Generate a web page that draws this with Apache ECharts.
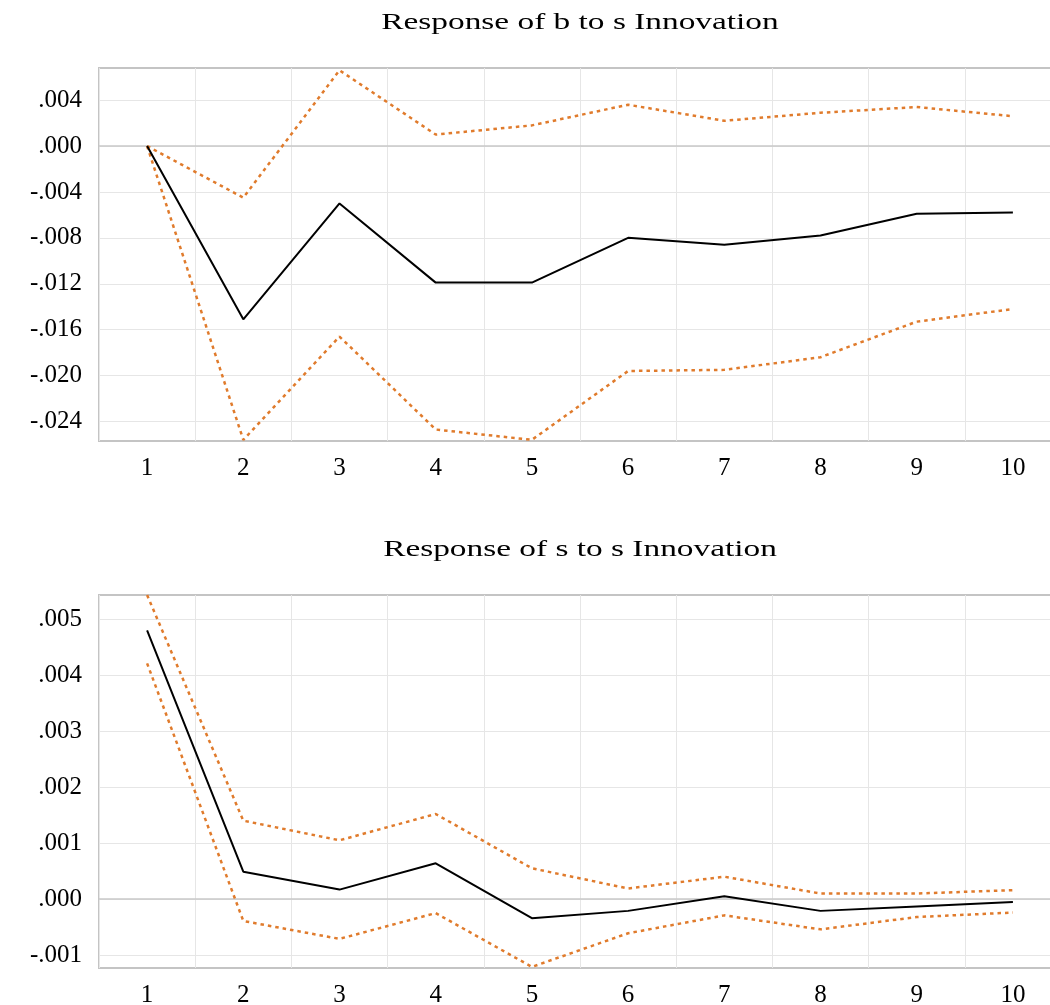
<!DOCTYPE html>
<html>
<head>
<meta charset="utf-8">
<script src="https://cdn.jsdelivr.net/npm/echarts@6/dist/echarts.min.js"></script>
<style>
  html, body { margin: 0; padding: 0; background: #fff; }
  #main { width: 1050px; height: 1005px; }
</style>
</head>
<body>
<div id="main"></div>
<script>
// periods
var periods = ['1', '2', '3', '4', '5', '6', '7', '8', '9', '10'];

// Response of b to s Innovation
var bResp  = [0, -0.0151, -0.0050, -0.0119, -0.0119, -0.0080, -0.0086, -0.0078, -0.0059, -0.0058];
var bUpper = [0, -0.0045, 0.0066, 0.0010, 0.0018, 0.0036, 0.0022, 0.0029, 0.0034, 0.0026];
var bLower = [0, -0.0256, -0.0166, -0.0247, -0.0256, -0.0196, -0.0195, -0.0184, -0.0153, -0.0142];
var bTicks = [-0.024, -0.020, -0.016, -0.012, -0.008, -0.004, 0.000, 0.004];

// Response of s to s Innovation
var sResp  = [0.00480, 0.00049, 0.00017, 0.00064, -0.00034, -0.00021, 0.00005, -0.00021, -0.00013, -0.00005];
var sUpper = [0.00543, 0.00140, 0.00105, 0.00152, 0.00055, 0.00019, 0.00040, 0.00010, 0.00010, 0.00016];
var sLower = [0.00421, -0.00039, -0.00071, -0.00025, -0.00121, -0.00061, -0.00029, -0.00054, -0.00032, -0.00024];
var sTicks = [-0.001, 0.000, 0.001, 0.002, 0.003, 0.004, 0.005];

var titles = ['Response of b to s Innovation', 'Response of s to s Innovation'];

var chart = echarts.init(document.getElementById('main'));

var serif = '"Liberation Serif", "Times New Roman", serif';
var orange = '#e07b2c';

function fmt(v) {
    var s = Math.abs(v) < 1e-9 ? '0.000' : v.toFixed(3);
    return s.replace(/^(-?)0\./, '$1.');
}

function xAxisOf(idx) {
    return {
        type: 'category',
        gridIndex: idx,
        data: periods,
        boundaryGap: true,
        axisLine: { show: false },
        axisTick: { show: false },
        axisLabel: { interval: 0, margin: 15, color: '#000', fontFamily: serif, fontSize: 25 },
        splitLine: { show: true, interval: 0, lineStyle: { color: '#e6e6e6', width: 1 } }
    };
}

function yAxisOf(idx, min, max, ticks) {
    return {
        type: 'value',
        gridIndex: idx,
        min: min,
        max: max,
        axisLine: { show: false },
        axisTick: { show: false, customValues: ticks },
        axisLabel: { customValues: ticks, formatter: fmt, margin: 17, color: '#000', fontFamily: serif, fontSize: 25 },
        splitLine: { show: true, lineStyle: { color: '#e6e6e6', width: 1 } }
    };
}

function lineOf(idx, data, isBand) {
    var s = {
        type: 'line',
        xAxisIndex: idx,
        yAxisIndex: idx,
        data: data,
        symbol: 'none',
        clip: false,
        silent: true,
        lineStyle: isBand
            ? { color: orange, width: 2.5, type: [3.5, 4] }
            : { color: '#000', width: 2 }
    };
    if (!isBand) {
        s.z = 3;
        s.markLine = {
            silent: true,
            symbol: 'none',
            label: { show: false },
            lineStyle: { color: '#c8c8c8', width: 1.5, type: 'solid' },
            data: [{ yAxis: 0 }],
            z: 1
        };
    }
    return s;
}

function titleOf(text, y) {
    // the reference text is horizontally stretched
    return {
        type: 'text',
        x: 580,
        y: y,
        scaleX: 1.45,
        style: {
            text: text,
            fill: '#000',
            font: 'normal 23px ' + serif,
            textAlign: 'center',
            textVerticalAlign: 'middle'
        }
    };
}

var gridBase = { left: 99, width: 962, height: 373, show: true, borderColor: '#c4c4c4', borderWidth: 2,
                 backgroundColor: 'transparent', outerBoundsMode: 'none', containLabel: false };

var option = {
    backgroundColor: '#fff',
    animation: false,
    graphic: [titleOf(titles[0], 23), titleOf(titles[1], 550)],
    grid: [
        Object.assign({ top: 68 }, gridBase),
        Object.assign({ top: 595 }, gridBase)
    ],
    xAxis: [xAxisOf(0), xAxisOf(1)],
    yAxis: [
        yAxisOf(0, -0.0257, 0.0068, bTicks),
        yAxisOf(1, -0.00123, 0.00543, sTicks)
    ],
    series: [
        lineOf(0, bUpper, true),
        lineOf(0, bLower, true),
        lineOf(0, bResp, false),
        lineOf(1, sUpper, true),
        lineOf(1, sLower, true),
        lineOf(1, sResp, false)
    ]
};

chart.setOption(option);
</script>
</body>
</html>
